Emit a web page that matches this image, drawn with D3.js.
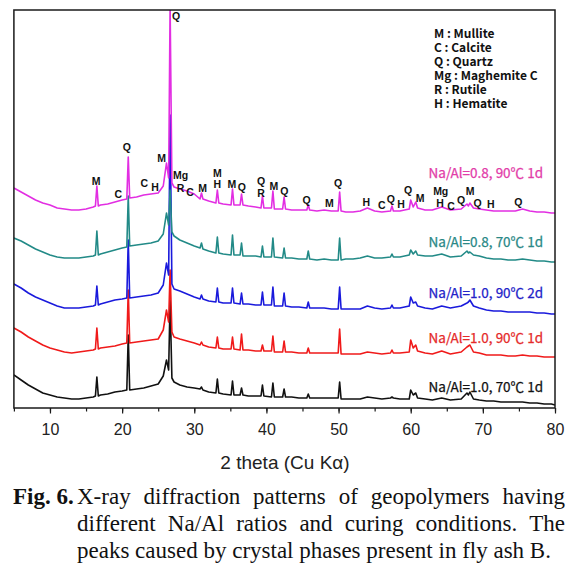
<!DOCTYPE html>
<html><head><meta charset="utf-8">
<script src="https://cdn.jsdelivr.net/npm/d3@7/dist/d3.min.js"></script>
<style>body{margin:0;background:#fff}svg{display:block}</style>
</head><body>
<svg id="c" width="585" height="570"></svg>
<script>
// ---------- DATA ----------
const twoTheta = [
  5,6,7,8,9,10,11,12,13,14,
  15,16,16.3,16.5,16.7,17,18,19,20,20.65,
  20.85,21.05,22,23,24,25,25.7,26.15,26.45,26.65,
  26.9,27.2,28,29,30,30.8,31.0,31.2,32,33.0,
  33.2,33.4,34,35.1,35.3,35.5,36.35,36.55,36.75,37.5,
  38.5,39.25,39.45,39.65,40.7,40.9,41.1,42.25,42.45,42.65,
  43.5,44.5,45.6,45.8,46.0,47,48,49,49.95,50.15,
  50.35,51,52,53,54,55,56,57.2,57.4,57.6,
  58.5,59.8,60.0,60.35,60.7,60.95,62,63,64.3,65.5,
  67.0,67.8,68.0,68.2,68.7,69.5,70.5,71.5,72.5,73.5,
  74.5,75.5,76.5,77.5,78.5,79.5,80
];
const seriesNames = ["Na/Al=1.0, 70\u2103 1d","Na/Al=1.0, 90\u2103 1d","Na/Al=1.0, 90\u2103 2d","Na/Al=0.8, 70\u2103 1d","Na/Al=0.8, 90\u2103 1d"];
// intensities (a.u., stacked with offsets as in the figure)
const naAl10_70C_1d = [
  33,28,23,19,15,13,11,10,9,9,
  10,11,12,31,12,13,14,16,17,18,
  73,18,19,20,22,24,32,48,38,108,
  30,26,23,21,20,19,21,18,16,15,
  29,15,14,13,27,13,13,20,13,12,
  12,12,23,12,11,25,11,11,19,11,
  11,10,10,14,10,10,10,10,10,26,
  9,9,9,9,11,10,9,10,11,10,
  9,9,18,13,15,10,9,8,10,8,
  9,15,13,16,9,8,7,7,6,6,
  6,6,5,5,4,4,3
];
const naAl10_90C_1d = [
  80,76,71,67,63,60,58,56,55,56,
  57,58,59,80,59,60,61,62,64,65,
  118,65,66,67,68,69,78,98,86,138,
  76,71,69,67,65,63,66,63,61,60,
  71,60,59,59,71,59,58,74,58,58,
  57,57,63,57,57,72,56,56,67,56,
  56,55,55,60,55,55,55,55,55,79,
  54,54,54,54,56,55,54,55,58,55,
  55,56,68,60,63,57,55,54,57,54,
  56,61,62,63,56,55,53,53,53,52,
  52,53,52,52,51,51,51
];
const naAl10_90C_2d = [
  124,120,115,111,108,105,102,100,100,100,
  101,102,103,122,103,104,106,108,109,110,
  168,110,111,112,113,115,123,145,133,293,
  124,119,117,114,111,109,113,109,107,106,
  120,106,105,105,120,105,104,115,104,104,
  103,103,116,103,103,121,102,102,115,102,
  101,101,100,106,100,100,100,99,99,121,
  99,99,99,99,102,100,99,100,103,100,
  100,102,111,105,106,102,100,99,102,100,
  102,105,106,108,102,100,98,97,97,96,
  96,96,96,95,95,94,94
];
const naAl08_70C_1d = [
  170,167,163,159,156,153,151,150,150,150,
  151,152,153,177,153,154,156,158,160,161,
  212,162,163,164,165,167,174,195,183,218,
  176,172,168,165,162,160,165,159,157,155,
  171,155,154,153,173,153,153,165,152,152,
  152,151,162,151,151,170,151,150,160,150,
  150,149,149,157,149,148,149,148,148,170,
  148,149,149,150,152,150,150,151,154,151,
  151,153,158,154,157,153,152,152,154,151,
  152,157,155,156,153,152,150,149,149,148,
  148,149,148,147,147,146,146
];
const naAl08_90C_1d = [
  220,216,212,208,205,203,200,199,198,198,
  199,201,202,222,202,203,204,206,208,209,
  251,210,211,213,214,215,222,245,230,403,
  225,221,219,217,214,209,215,209,207,205,
  218,205,204,203,219,203,203,214,203,202,
  201,200,212,200,200,217,199,199,211,199,
  198,198,198,203,198,197,198,197,197,216,
  197,196,196,197,200,197,196,197,202,197,
  197,199,208,201,206,200,198,198,201,198,
  199,204,202,205,200,199,198,197,197,197,
  197,199,197,196,196,195,195
];
const xTickValues = [5,10,15,20,25,30,35,40,45,50,55,60,65,70,75,80];
const xTickLabelValues = [10,20,30,40,50,60,70,80];
const phaseLegend = ["M : Mullite","C : Calcite","Q : Quartz","Mg : Maghemite C","R : Rutile","H : Hematite"];
const peakLabelText  = ["M","C","Q","C","H","M","Mg","R","C","M","M","H","M","Q","Q","R","M","Q","Q","M","Q","H","C","Q","H","Q","M","Mg","H","C","Q","M","Q","H","Q","Q"];
const peakLabelTheta = [16.38,19.47,20.64,23.08,24.56,25.49,28.09,28.1,29.41,31.17,33.2,33.2,35.23,36.58,39.25,39.25,41.05,42.47,45.56,48.71,49.93,53.85,55.98,57.23,58.66,59.63,61.29,64.16,64.07,65.59,66.98,68.22,69.26,71.09,74.92,27.47];
const peakLabelLevel = [227.3,214,261,225,221,250,233,220.3,216.3,220.3,235.5,224,224,221.3,227.5,215.5,222,217.3,208.5,205.3,224.7,206.3,203,208.7,203.7,218,209.7,216.7,205.5,202.5,208.5,217.5,205.3,203.7,206,392];

// ---------- LAYOUT / STYLE ----------
const series = [naAl10_70C_1d, naAl10_90C_1d, naAl10_90C_2d, naAl08_70C_1d, naAl08_90C_1d];
const lineColors  = ["#111111","#f01a1a","#1a1adc","#228a87","#e22ee2"];
const labelColors = ["#111111","#e52a2a","#2222c8","#2a8886","#e23ca8"];
const labelY = [385.7, 336.7, 291.7, 240.7, 171.7];

const svg = d3.select("#c");
const L = 13.9, R = 555, T = 10, B = 408;
const x = d3.scaleLinear().domain([5,80]).range([L,R]);
const y = d3.scaleLinear().domain([0,400]).range([B,8]);

svg.append("defs").append("clipPath").attr("id","clip")
  .append("rect").attr("x",L).attr("y",T).attr("width",R-L).attr("height",B-T);

const line = d3.line().x((d,i)=>x(twoTheta[i])).y(d=>y(d));
const g = svg.append("g").attr("clip-path","url(#clip)");
series.forEach((s,k)=>{
  g.append("path").attr("d",line(s)).attr("fill","none")
   .attr("stroke",lineColors[k]).attr("stroke-width",1.6).attr("stroke-linejoin","round");
});

// frame
svg.append("rect").attr("x",L).attr("y",T).attr("width",R-L).attr("height",B-T)
  .attr("fill","none").attr("stroke","#1a1a1a").attr("stroke-width",1.5);

// axes
const minorAxis = d3.axisBottom(x).tickValues(xTickValues).tickSize(3.5).tickFormat("");
svg.append("g").attr("transform",`translate(0,${B})`).call(minorAxis)
  .call(a=>a.select(".domain").remove())
  .call(a=>a.selectAll("line").attr("stroke","#1a1a1a").attr("stroke-width",1.2));
const majorAxis = d3.axisBottom(x).tickValues(xTickLabelValues).tickSize(5.5).tickPadding(10);
svg.append("g").attr("transform",`translate(0,${B})`).call(majorAxis)
  .call(a=>a.select(".domain").remove())
  .call(a=>a.selectAll("line").attr("stroke","#1a1a1a").attr("stroke-width",1.2))
  .call(a=>a.selectAll("text").attr("font-family","Liberation Sans, Arial, sans-serif")
     .attr("font-size",16).attr("fill","#222"));

svg.append("text").attr("x",285).attr("y",468.5).attr("text-anchor","middle")
  .attr("font-family","Liberation Sans, Arial, sans-serif").attr("font-size",19).attr("fill","#222")
  .text("2 theta (Cu K\u03b1)");

// phase legend
svg.append("g").selectAll("text").data(phaseLegend).join("text")
  .attr("x",434).attr("y",(d,i)=>32+i*14.1).attr("dominant-baseline","central")
  .attr("font-family","Noto Sans CJK KR, Noto Sans, sans-serif").attr("font-weight",700)
  .attr("font-size",12).attr("fill","#111").text(d=>d);

// peak labels
svg.append("g").selectAll("text").data(peakLabelText).join("text")
  .attr("x",(d,i)=>x(peakLabelTheta[i])).attr("y",(d,i)=>y(peakLabelLevel[i]))
  .attr("text-anchor","middle").attr("dominant-baseline","central")
  .attr("font-family","Liberation Sans, Arial, sans-serif").attr("font-weight",700)
  .attr("font-size",10.5).attr("fill","#111").text(d=>d);

// series labels
svg.append("g").selectAll("text").data(seriesNames).join("text")
  .attr("x",543).attr("y",(d,i)=>labelY[i]).attr("text-anchor","end").attr("dominant-baseline","central")
  .attr("font-family","Noto Sans CJK KR, Noto Sans, sans-serif").attr("font-size",13.5)
  .attr("stroke",(d,i)=>labelColors[i]).attr("stroke-width",0.25)
  .attr("fill",(d,i)=>labelColors[i]).text(d=>d);

// caption
const capFont = "Liberation Serif, Times New Roman, serif";
const capSize = 23;
const capY = [504, 531, 558];
const cx0 = 77, cx1 = 565;
svg.append("text").attr("x",13).attr("y",capY[0]).attr("font-family",capFont).attr("font-size",capSize)
  .attr("font-weight",700).attr("fill","#111").text("Fig. 6.");
const capLines = ["X-ray diffraction patterns of geopolymers having",
                  "different Na/Al ratios and curing conditions. The",
                  "peaks caused by crystal phases present in fly ash B."];
capLines.forEach((ln,li)=>{
  if (li === 2) {
    svg.append("text").attr("x",cx0).attr("y",capY[li]).attr("font-family",capFont)
      .attr("font-size",capSize).attr("fill","#111").text(ln);
    return;
  }
  const words = ln.split(" ");
  const tmp = svg.append("text").attr("font-family",capFont).attr("font-size",capSize);
  const widths = words.map(w=>{tmp.text(w); return tmp.node().getComputedTextLength();});
  tmp.remove();
  const gap = (cx1-cx0-d3.sum(widths))/(words.length-1);
  let xx = cx0;
  words.forEach((w,wi)=>{
    svg.append("text").attr("x",xx).attr("y",capY[li]).attr("font-family",capFont)
      .attr("font-size",capSize).attr("fill","#111").text(w);
    xx += widths[wi] + gap;
  });
});
</script>
</body></html>
